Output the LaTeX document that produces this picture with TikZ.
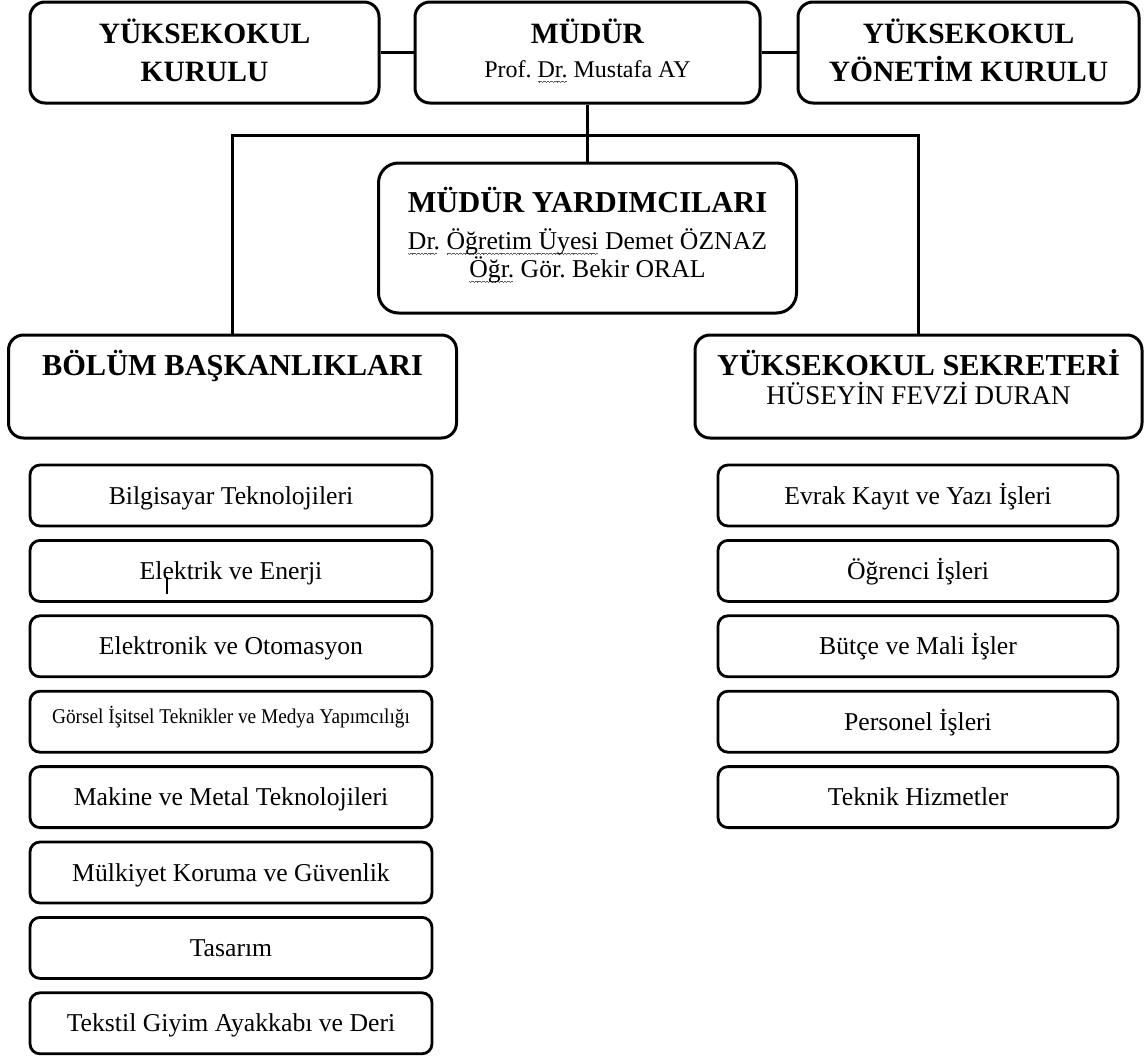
\documentclass[tikz,border=0pt]{standalone}
\usepackage{fontspec}
\setmainfont{Liberation Serif}
\usetikzlibrary{calc}
\newcommand\wavepiece{\hbox{\vrule width 0.9pt height -4.4pt depth 5.4pt\vrule width 0.9pt height -5.2pt depth 6.2pt\vrule width 0.9pt height -4.4pt depth 5.4pt\vrule width 0.9pt height -3.6pt depth 4.6pt}}
\newcommand\wv[1]{\setbox0=\hbox{#1}\rlap{\hbox to \wd0{\color{black!65}\leaders\wavepiece\hfill}}\box0\relax}
\frenchspacing
\begin{document}
\frenchspacing
\begin{tikzpicture}[x=1pt,y=-1pt,
  box/.style={draw=black, line width=3pt, rounded corners=15pt, inner sep=0pt},
  smallbox/.style={draw=black, line width=2.8pt, rounded corners=10pt, inner sep=0pt, minimum width=402pt, minimum height=61pt},
  rsmallbox/.style={smallbox, minimum width=400pt},
  conn/.style={draw=black, line width=3pt},
  hdr/.style={font=\fontsize{29.5}{32}\selectfont\bfseries, anchor=base, inner sep=0pt},
  bighdr/.style={font=\fontsize{30.4}{33}\selectfont\bfseries, anchor=base, inner sep=0pt},
  sub/.style={font=\fontsize{24}{27}\selectfont, anchor=base, inner sep=0pt},
  lbl/.style={font=\fontsize{25.7}{28}\selectfont, anchor=base, inner sep=0pt}]
\useasboundingbox (0,0) rectangle (1146,1055);

% top row
\node[box, minimum width=349pt, minimum height=101pt] (ykk) at (204.5,52.5) {};
\node[box, minimum width=345pt, minimum height=101pt] (mudur) at (587.5,52.5) {};
\node[box, minimum width=341pt, minimum height=101pt] (ykyk) at (968.5,52.5) {};
\node[hdr] (ykkA) at (204.5,43) {YÜKSEKOKUL};
\node[hdr] (ykkB) at (204.5,81) {KURULU};
\node[hdr] (mudA) at (587.5,43) {MÜDÜR};
\node[sub] (mudB) at (587.5,77) {Prof. \wv{Dr.} Mustafa AY};
\node[hdr] (ykykA) at (968.5,43) {YÜKSEKOKUL};
\node[hdr] (ykykB) at (968.5,81) {YÖNETİM KURULU};

% deputies
\node[box, rounded corners=20pt, minimum width=418pt, minimum height=150pt] (my) at (587.5,238) {};
\node[font=\fontsize{30.4}{33}\selectfont\bfseries, anchor=base, inner sep=0pt] (myA) at (587.5,212) {MÜDÜR YARDIMCILARI};
\node[lbl] (myB) at (587.5,249) {\wv{Dr.} \wv{Öğretim Üyesi} Demet ÖZNAZ};
\node[lbl] (myC) at (587.5,277) {\wv{Öğr.} Gör. Bekir ORAL};

% second level
\node[box, minimum width=448pt, minimum height=103pt] (bolum) at (232.5,386.5) {};
\node[box, minimum width=447pt, minimum height=103pt] (sekr) at (918.5,386.5) {};
\node[bighdr] (bolA) at (232.5,375) {BÖLÜM BAŞKANLIKLARI};
\node[bighdr] (sekA) at (918.5,375) {YÜKSEKOKUL SEKRETERİ};
\node[font=\fontsize{27}{30}\selectfont, anchor=base, inner sep=0pt] (sekB) at (918.5,404) {HÜSEYİN FEVZİ DURAN};

% connectors
\coordinate (bar) at (587.5,135);
\draw[conn] (ykk.east) -- (mudur.west);
\draw[conn] (mudur.east) -- (ykyk.west);
\draw[conn] (mudur.south) -- (my.north);
\draw[conn] (bolum.north) |- (bar) -| (sekr.north);

% departments
\node[smallbox] (d1) at (231,495.5) {};
\node[smallbox] (d2) at (231,570.9) {};
\node[smallbox] (d3) at (231,646.3) {};
\node[smallbox] (d4) at (231,721.7) {};
\node[smallbox] (d5) at (231,797.1) {};
\node[smallbox] (d6) at (231,872.5) {};
\node[smallbox] (d7) at (231,947.9) {};
\node[smallbox] (d8) at (231,1023.3) {};
\node[lbl] (d1t) at (231,504) {Bilgisayar Teknolojileri};
\node[lbl] (d2t) at (231,579.4) {Elektrik ve Enerji};
\node[lbl] (d3t) at (231,654.8) {Elektronik ve Otomasyon};
\node[anchor=base, inner sep=0pt] (d4t) at (231,723) {\scalebox{0.92}[1]{\fontsize{21}{24}\selectfont Görsel İşitsel Teknikler ve Medya Yapımcılığı}};
\node[lbl] (d5t) at (231,805.6) {Makine ve Metal Teknolojileri};
\node[lbl] (d6t) at (231,881) {Mülkiyet Koruma ve Güvenlik};
\node[lbl] (d7t) at (231,956.4) {Tasarım};
\node[lbl] (d8t) at (231,1031.8) {Tekstil Giyim Ayakkabı ve Deri};
\draw[line width=1.2pt] (167,577) -- (167,594);

% offices
\node[rsmallbox] (s1) at (918,495.5) {};
\node[rsmallbox] (s2) at (918,570.9) {};
\node[rsmallbox] (s3) at (918,646.3) {};
\node[rsmallbox] (s4) at (918,721.7) {};
\node[rsmallbox] (s5) at (918,797.1) {};
\node[lbl] (s1t) at (918,504) {Evrak Kayıt ve Yazı İşleri};
\node[lbl] (s2t) at (918,579.4) {Öğrenci İşleri};
\node[lbl] (s3t) at (918,654.8) {Bütçe ve Mali İşler};
\node[lbl] (s4t) at (918,730.2) {Personel İşleri};
\node[lbl] (s5t) at (918,805.6) {Teknik Hizmetler};
\end{tikzpicture}
\end{document}
